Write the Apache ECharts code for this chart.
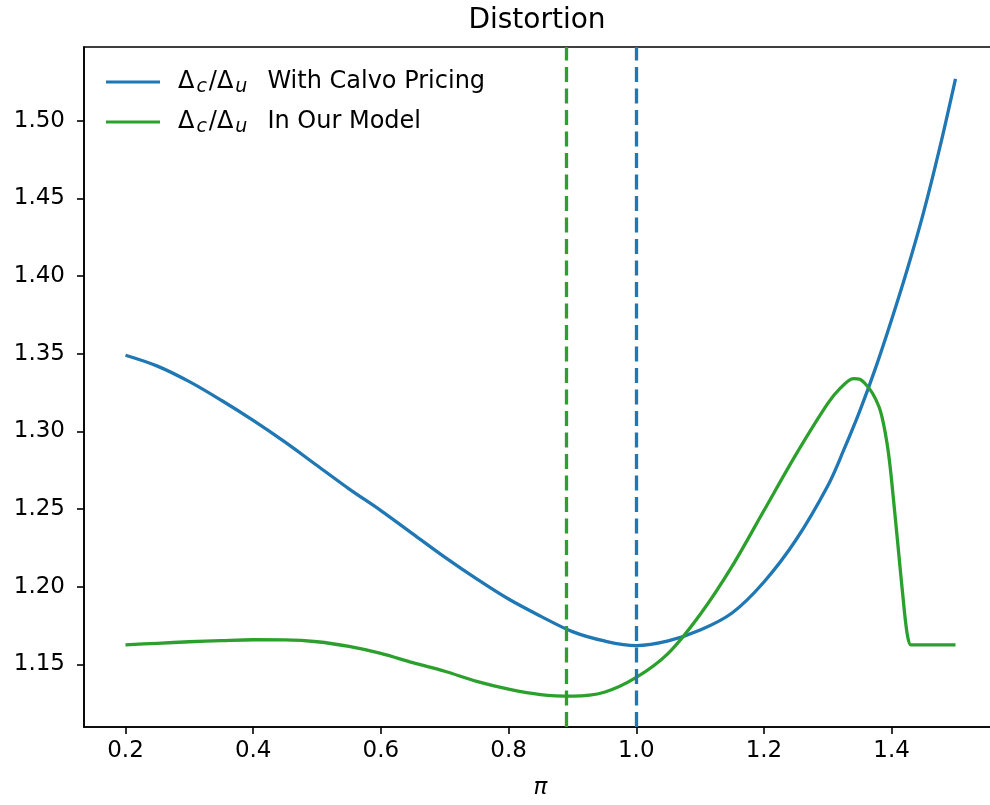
<!DOCTYPE html>
<html>
<head>
<meta charset="utf-8">
<script src="https://cdn.jsdelivr.net/npm/echarts@6/dist/echarts.min.js"></script>
<style>html,body{margin:0;padding:0;background:#fff;overflow:hidden;}#c{width:1000px;height:805px;}</style>
</head>
<body>
<div id="c"></div>
<script>
// ---- data ----
const calvoX = [0.2,0.25,0.3,0.35,0.4,0.45,0.5,0.55,0.6,0.65,0.7,0.75,0.8,0.85,0.9,0.95,1.0,1.05,1.1,1.15,1.2,1.25,1.3,1.325,1.35,1.375,1.4,1.425,1.45,1.475,1.5];
const calvoY = [1.349,1.342,1.332,1.320,1.307,1.293,1.278,1.263,1.249,1.234,1.219,1.205,1.192,1.181,1.171,1.165,1.162,1.165,1.172,1.183,1.203,1.230,1.265,1.288,1.313,1.341,1.372,1.405,1.441,1.482,1.527];
const modelX = [0.2,0.25,0.3,0.35,0.4,0.45,0.5,0.55,0.6,0.65,0.7,0.75,0.8,0.85,0.9,0.95,1.0,1.05,1.1,1.15,1.2,1.25,1.3,1.32,1.34,1.35,1.36,1.37,1.38,1.385,1.39,1.395,1.40,1.41,1.42,1.425,1.43,1.44,1.46,1.48,1.5];
const modelY = [1.1625,1.1635,1.1645,1.1652,1.1658,1.1657,1.1645,1.1615,1.157,1.151,1.1455,1.139,1.134,1.1305,1.1295,1.132,1.1415,1.157,1.182,1.213,1.249,1.285,1.318,1.328,1.334,1.3335,1.330,1.3245,1.316,1.309,1.299,1.286,1.268,1.226,1.184,1.168,1.1625,1.1625,1.1625,1.1625,1.1625];
const vlineCalvo = [1.0];
const vlineModel = [0.889];
const xTicks = [0.2,0.4,0.6,0.8,1.0,1.2,1.4];
const yTicks = [1.15,1.20,1.25,1.30,1.35,1.40,1.45,1.50];
const seriesNames = ['calvo','model'];
const legendText = {calvo: 'With Calvo Pricing', model: 'In Our Model'};

const BLUE = '#1f77b4', GREEN = '#2ca02c';
const FONT = 'DejaVu Sans';

const chart = echarts.init(document.getElementById('c'), null, {renderer: 'canvas'});
const pair = (xs, ys) => xs.map((x, i) => [x, ys[i]]);

chart.setOption({
  animation: false,
  backgroundColor: '#fff',
  title: {
    text: 'Distortion', left: 532, top: 2, textAlign: 'center',
    textStyle: {fontFamily: FONT, fontSize: 28, fontWeight: 'normal', color: '#000'}
  },
  grid: {left: 84, top: 47, width: 913, height: 682, show: true, borderColor: '#000', borderWidth: 1.6, backgroundColor: 'transparent'},
  legend: {
    orient: 'vertical', left: 101, top: 65, itemGap: 13,
    itemWidth: 54, itemHeight: 3, icon: 'rect',
    data: seriesNames,
    formatter: n => '{d|Δ}{s|c}{d|/Δ}{s|u}{t|' + legendText[n] + '}',
    textStyle: {
      fontFamily: FONT, fontSize: 24, color: '#000', padding: [0, 0, 0, 12],
      rich: {
        d: {fontFamily: FONT, fontSize: 24, color: '#000', padding: [0, 1, 0, 1]},
        s: {fontFamily: FONT, fontSize: 19, fontStyle: 'italic', color: '#000', padding: [11, 1, 0, 1]},
        t: {fontFamily: FONT, fontSize: 24, color: '#000', padding: [0, 0, 0, 19]}
      }
    }
  },
  xAxis: {
    type: 'value', min: 0.135, max: 1.565,
    name: 'π', nameLocation: 'middle', nameGap: 50,
    nameTextStyle: {fontFamily: FONT, fontSize: 23, fontStyle: 'italic', color: '#000'},
    splitLine: {show: false},
    axisLine: {show: true, onZero: false, lineStyle: {color: '#000', width: 1.6}},
    axisTick: {show: true, inside: false, length: 7, lineStyle: {color: '#000', width: 1.6}, customValues: xTicks},
    axisLabel: {fontFamily: FONT, fontSize: 23, color: '#000', margin: 13, customValues: xTicks, formatter: v => v.toFixed(1)}
  },
  yAxis: {
    type: 'value', min: 1.1096, max: 1.5475,
    splitLine: {show: false},
    axisLine: {show: true, onZero: false, lineStyle: {color: '#000', width: 1.6}},
    axisTick: {show: true, inside: false, length: 7, lineStyle: {color: '#000', width: 1.6}, customValues: yTicks},
    axisLabel: {fontFamily: FONT, fontSize: 23, color: '#000', margin: 19, customValues: yTicks, formatter: v => v.toFixed(2)}
  },
  series: [
    {
      name: 'calvo', type: 'line', data: pair(calvoX, calvoY), showSymbol: false, symbol: 'none',
      smooth: 0.35, color: BLUE, lineStyle: {color: BLUE, width: 3.3},
      markLine: {silent: true, symbol: ['none', 'none'], label: {show: false},
        lineStyle: {color: BLUE, width: 3.3, type: [15, 6.5]},
        data: vlineCalvo.map(v => ({xAxis: v}))}
    },
    {
      name: 'model', type: 'line', data: pair(modelX, modelY), showSymbol: false, symbol: 'none',
      smooth: 0.3, color: GREEN, lineStyle: {color: GREEN, width: 3.3},
      markLine: {silent: true, symbol: ['none', 'none'], label: {show: false},
        lineStyle: {color: GREEN, width: 3.3, type: [15, 6.5]},
        data: vlineModel.map(v => ({xAxis: v}))}
    }
  ]
});
</script>
</body>
</html>
